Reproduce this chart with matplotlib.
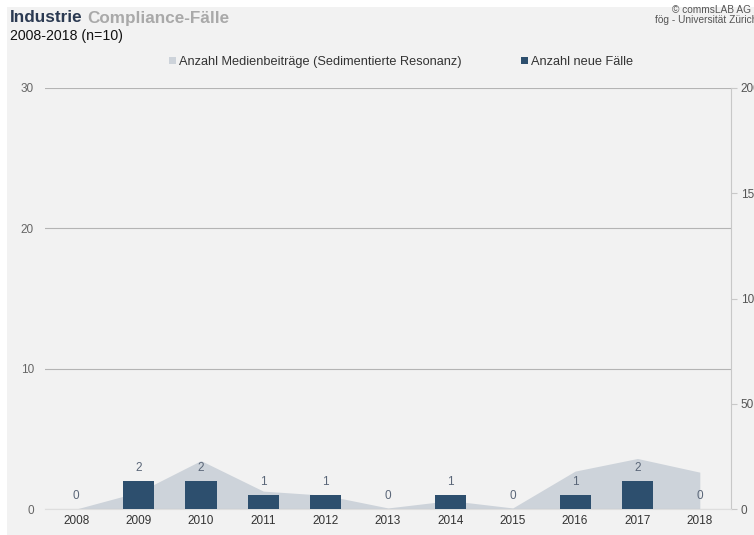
import numpy as np
import matplotlib.pyplot as plt
from matplotlib.patches import Patch, Rectangle

plt.rcParams["font.family"] = ["Liberation Sans", "DejaVu Sans"]

# ---- Daten ----
years = [2008, 2009, 2010, 2011, 2012, 2013, 2014, 2015, 2016, 2017, 2018]
neue_faelle = [0, 2, 2, 1, 1, 0, 1, 0, 1, 2, 0]
medienbeitraege = [0, 8, 23, 8.5, 6.5, 0.5, 4, 0.5, 18, 24, 17.5]

left_ticks = [0, 10, 20, 30]
right_ticks = [0, 50, 100, 150, 200]

BAR_COLOR = "#2d4f6e"
AREA_COLOR = "#cdd3da"
BG = "#f2f2f2"

W, H = 754, 535
fig = plt.figure(figsize=(W / 100, H / 100), dpi=100, facecolor="white")
fig.patches.append(Rectangle((7 / W, 0), (W - 7) / W, (H - 7) / H,
                             transform=fig.transFigure, facecolor=BG,
                             edgecolor="none", zorder=-10))

ax = fig.add_axes([45 / W, 1 - 509 / H, (731 - 45) / W, (509 - 88) / H])
ax2 = ax.twinx()
ax.set_zorder(ax2.get_zorder() + 1)
ax.patch.set_visible(False)
ax2.patch.set_visible(False)

x = np.arange(len(years))

# Fläche: Medienbeiträge (rechte Achse)
ax2.fill_between(x, 0, medienbeitraege, color=AREA_COLOR, linewidth=0)
ax2.set_ylim(0, 200)
ax2.set_yticks(right_ticks)
ax2.tick_params(axis="y", direction="out", length=4, color="#c8c8c8",
                labelcolor="#555555", labelsize=8.5, pad=3)
for s in ["top", "left", "bottom"]:
    ax2.spines[s].set_visible(False)
ax2.spines["right"].set_color("#c8c8c8")

# Balken: neue Fälle (linke Achse)
bars = ax.bar(x, neue_faelle, width=0.5, color=BAR_COLOR, zorder=3)
for xi, v in zip(x, neue_faelle):
    ax.annotate(str(v), (xi, v), xytext=(0, 5), textcoords="offset points",
                ha="center", va="bottom", fontsize=8.5, color="#5a6678")

ax.set_xlim(-0.5, len(years) - 0.5)
ax.set_ylim(0, 30)
ax.set_yticks(left_ticks)
ax.set_xticks(x)
ax.set_xticklabels([str(y) for y in years])
ax.tick_params(axis="x", length=0, labelsize=8.5, labelcolor="#333333", pad=4)
ax.tick_params(axis="y", length=0, labelsize=8.5, labelcolor="#666666", pad=8)
ax.grid(axis="y", color="#b4b4b4", linewidth=0.8)
ax.set_axisbelow(True)
for s in ["top", "left", "right"]:
    ax.spines[s].set_visible(False)
ax.spines["bottom"].set_color("#dedede")

# Titel
t1 = fig.text(10 / W, 1 - 18 / H, "Industrie", fontsize=12.3, fontweight="bold",
              color="#2b3a52", va="center")
fig.canvas.draw()
bb = t1.get_window_extent()
fig.text((bb.x1 + 5) / W, 1 - 18 / H, "Compliance-Fälle", fontsize=12.3,
         fontweight="bold", color="#a9a9a9", va="center")
fig.text(10 / W, 1 - 36 / H, "2008-2018 (n=10)", fontsize=10.2,
         color="#111111", va="center")

fig.text(757 / W, 1 - 15 / H, "© commsLAB AG /\nfög - Universität Zürich",
         fontsize=7.3, color="#555555", ha="right", va="center",
         multialignment="right", linespacing=1.0)

# Legende
handles = [Patch(facecolor=AREA_COLOR, edgecolor="none"),
           Patch(facecolor=BAR_COLOR, edgecolor="none")]
labels = ["Anzahl Medienbeiträge (Sedimentierte Resonanz)", "Anzahl neue Fälle"]
fig.legend(handles, labels, loc="center", bbox_to_anchor=(401 / W, 1 - 62 / H),
           ncol=2, frameon=False, fontsize=9.2, handlelength=0.55,
           handleheight=0.55, handletextpad=0.25, columnspacing=4.6,
           labelcolor="#333333")

fig.savefig("out.png", dpi=100, facecolor=fig.get_facecolor())
